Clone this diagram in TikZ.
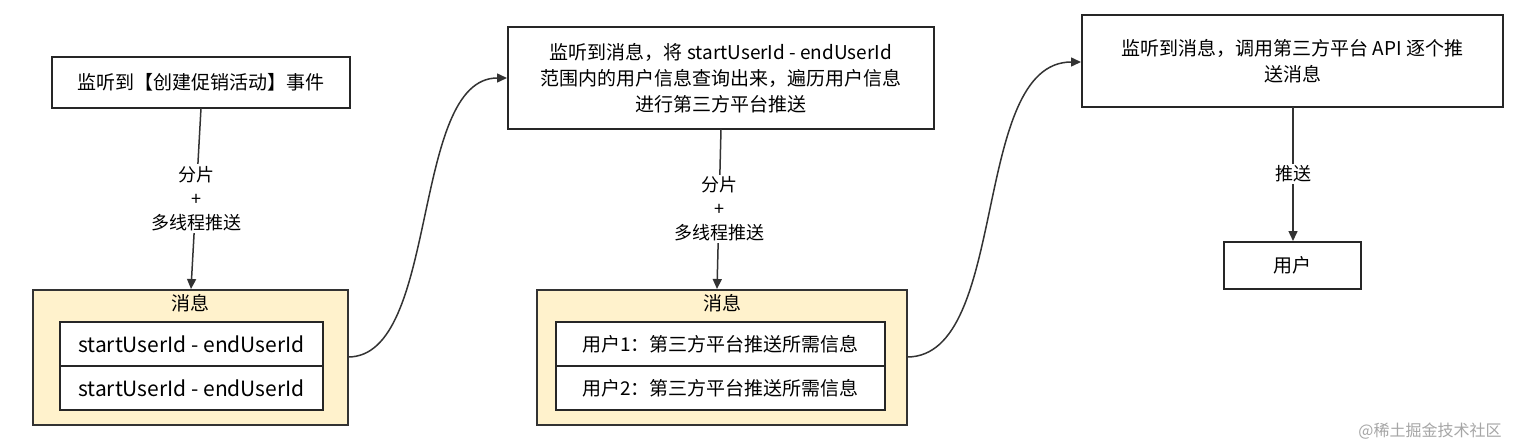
\documentclass[tikz,border=0pt]{standalone}
\usepackage{fontspec}
\setmainfont{Noto Sans CJK SC}
\usetikzlibrary{arrows.meta}
\begin{document}
\begin{tikzpicture}[x=1pt,y=-1pt,
  box/.style={draw=black!85,line width=1.5pt,fill=white},
  ybox/.style={draw=black!80,line width=1.5pt,fill={rgb,255:red,255;green,242;blue,204}},
  row/.style={draw=black!85,line width=1.5pt,fill=white},
  conn/.style={draw=black!80,line width=1.5pt,-{Triangle[length=10pt,width=9pt]}},
  lab/.style={fill=white,font=\fontsize{18}{24}\selectfont,align=center,inner sep=2pt},
  txt/.style={font=\fontsize{19}{26}\selectfont,align=center}]
\useasboundingbox (0,0) rectangle (1515,447);
\fill[white] (0,0) rectangle (1515,447);
% box1
\draw[box] (52,57) rectangle (350,108);
\node[txt] (b1) at (201,82.5) {监听到【创建促销活动】事件};
\coordinate (b1s) at (201,108);
% yellow 1
\draw[ybox] (33,290) rectangle (348,425);
\node[txt] (y1t) at (190.5,303) {消息};
\draw[row] (60,322) rectangle (323,366);
\draw[row] (60,366) rectangle (323,410);
\node[txt,font=\fontsize{21}{26}\selectfont] (r11) at (191.5,344) {startUserId - endUserId};
\node[txt,font=\fontsize{21}{26}\selectfont] (r12) at (191.5,388) {startUserId - endUserId};
\coordinate (y1n) at (191,289);
\coordinate (y1e) at (348,357);
\draw[conn] (b1s) -- node[lab]{分片\\+\\多线程推送} (y1n);
% box2
\draw[box] (508,27) rectangle (934,129);
\node[txt] (b2) at (721,78) {监听到消息，将 startUserId - endUserId\\范围内的用户信息查询出来，遍历用户信息\\进行第三方平台推送};
\coordinate (b2w) at (507,78);
\coordinate (b2s) at (721,129);
\draw[conn] (y1e) .. controls (440,357) and (410,78) .. (b2w);
% yellow 2
\draw[ybox] (537,290) rectangle (907,425);
\node[txt] (y2t) at (722,303) {消息};
\draw[row] (556,322) rectangle (885,366);
\draw[row] (556,366) rectangle (885,410);
\node[txt] (r21) at (720.5,344) {用户1：第三方平台推送所需信息};
\node[txt] (r22) at (720.5,388) {用户2：第三方平台推送所需信息};
\coordinate (y2n) at (717,289);
\coordinate (y2e) at (907,357);
\draw[conn] (b2s) -- node[lab]{分片\\+\\多线程推送} (y2n);
% box3
\draw[box] (1082,15) rectangle (1503,107);
\node[txt] (b3) at (1292.5,61) {监听到消息，调用第三方平台 API 逐个推\\送消息};
\coordinate (b3w) at (1081,62);
\coordinate (b3s) at (1293,107);
\draw[conn] (y2e) .. controls (1010,357) and (970,62) .. (b3w);
% box4
\draw[box] (1224,242) rectangle (1361,289);
\node[txt] (b4) at (1292.5,265.5) {用户};
\coordinate (b4n) at (1293,241);
\draw[conn] (b3s) -- node[lab]{推送} (b4n);
\node[font=\fontsize{16}{18}\selectfont,text=black!35] (wm) at (1430,431) {@稀土掘金技术社区};
\end{tikzpicture}
\end{document}
